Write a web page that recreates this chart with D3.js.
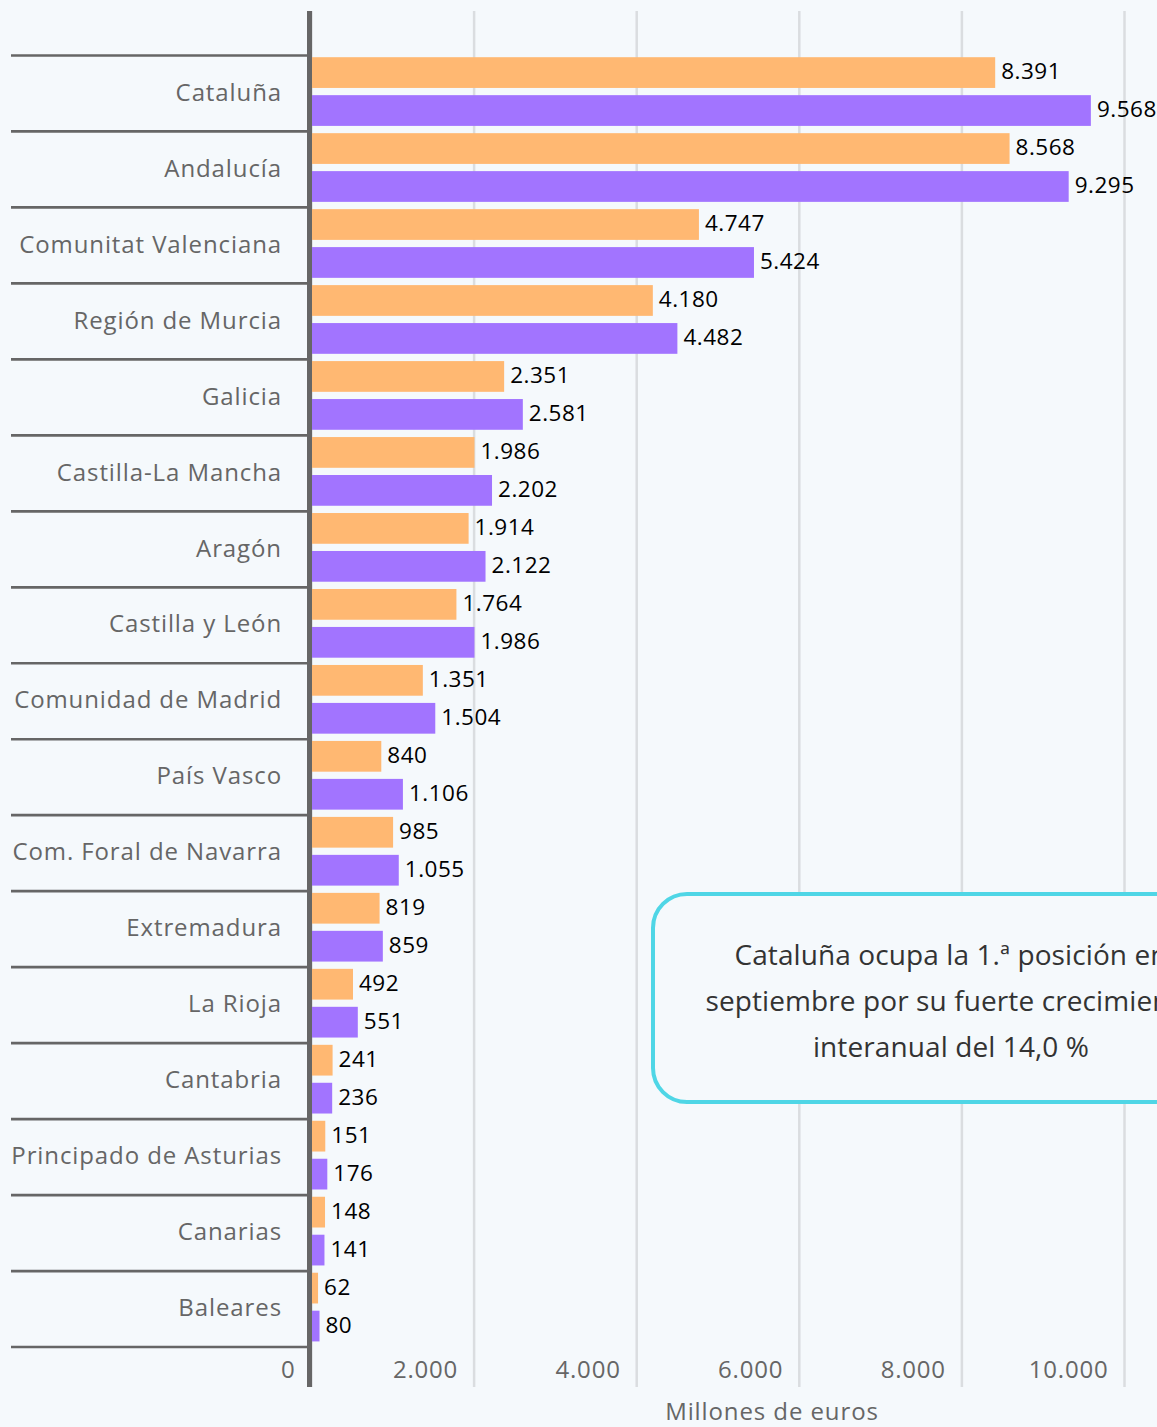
<!DOCTYPE html>
<html>
<head>
<meta charset="utf-8">
<script src="https://cdn.jsdelivr.net/npm/d3@7"></script>
<style>
  body { margin: 0; background: #f5f9fc; }
  svg { display: block; }
</style>
</head>
<body>
<div id="grafica"></div>
<script>
// datos
var regiones = ["Cataluña", "Andalucía", "Comunitat Valenciana", "Región de Murcia", "Galicia",
  "Castilla-La Mancha", "Aragón", "Castilla y León", "Comunidad de Madrid", "País Vasco",
  "Com. Foral de Navarra", "Extremadura", "La Rioja", "Cantabria", "Principado de Asturias",
  "Canarias", "Baleares"];
var serieAnterior = [8391, 8568, 4747, 4180, 2351, 1986, 1914, 1764, 1351, 840, 985, 819, 492, 241, 151, 148, 62];
var serieActual = [9568, 9295, 5424, 4482, 2581, 2202, 2122, 1986, 1504, 1106, 1055, 859, 551, 236, 176, 141, 80];
var ticksX = [0, 2000, 4000, 6000, 8000, 10000];
var tituloX = "Millones de euros";
var nota = ["Cataluña ocupa la 1.ª posición en", "septiembre por su fuerte crecimiento", "interanual del 14,0 %"];

var es = d3.formatLocale({ decimal: ",", thousands: ".", grouping: [3], currency: ["", " €"] });
var fmt = es.format(",d");

var width = 1157, height = 1427;
var yArriba = 11, yAbajo = 1387;

var svg = d3.select("#grafica")
  .append("svg")
  .attr("width", width)
  .attr("height", height);

var x = d3.scaleLinear()
  .domain([0, 10000])
  .range([311, 1124]);

var y = d3.scaleBand()
  .domain(regiones)
  .range([55.5, 1347])
  .padding(0);

var ySub = d3.scaleBand()
  .domain(["anterior", "actual"])
  .range([1.7, 70.4])
  .paddingInner(0.19);

var colores = { anterior: "#ffb872", actual: "#a274ff" };

// rejilla + etiquetas del eje x
var ejeX = svg.append("g")
  .attr("transform", "translate(0," + yAbajo + ")")
  .call(d3.axisBottom(x).tickValues(ticksX).tickSize(-(yAbajo - yArriba)).tickFormat(fmt));
ejeX.select(".domain").remove();
ejeX.selectAll("line")
  .attr("stroke", "#dadde0")
  .attr("stroke-width", 2.5);
ejeX.selectAll("text")
  .attr("y", -9)
  .attr("dy", 0)
  .attr("dx", -16)
  .attr("text-anchor", "end")
  .attr("fill", "#666")
  .style("font-family", "'Open Sans', sans-serif")
  .style("font-size", "24px")
  .style("letter-spacing", "0.8px");

svg.append("text")
  .attr("x", 772)
  .attr("y", 1420)
  .attr("text-anchor", "middle")
  .attr("fill", "#666")
  .style("font-family", "'Open Sans', sans-serif")
  .style("font-size", "24px")
  .style("letter-spacing", "0.9px")
  .text(tituloX);

// separadores de categorias
var bordes = d3.range(regiones.length + 1).map(function(i) { return y.range()[0] + i * y.step(); });
svg.selectAll("line.sep")
  .data(bordes)
  .enter()
  .append("line")
    .attr("class", "sep")
    .attr("x1", 11)
    .attr("x2", 308)
    .attr("y1", function(d) { return d; })
    .attr("y2", function(d) { return d; })
    .attr("stroke", "#666")
    .attr("stroke-width", 2.7);

var ejeY = svg.append("g")
  .attr("transform", "translate(308,0)")
  .call(d3.axisLeft(y).tickSize(0).tickPadding(26));
ejeY.select(".domain").remove();
ejeY.selectAll("text")
  .attr("dy", "0.3em")
  .attr("fill", "#666")
  .style("font-family", "'Open Sans', sans-serif")
  .style("font-size", "24px")
  .style("letter-spacing", "0.9px");

// barras
var filas = regiones.map(function(r, i) {
  return [
    { region: r, serie: "anterior", valor: serieAnterior[i] },
    { region: r, serie: "actual", valor: serieActual[i] }
  ];
}).flat();

svg.selectAll("rect.bar")
  .data(filas)
  .enter()
  .append("rect")
    .attr("class", "bar")
    .attr("x", x(0) + 1)
    .attr("y", function(d) { return y(d.region) + ySub(d.serie); })
    .attr("width", function(d) { return x(d.valor) - x(0) + 1; })
    .attr("height", ySub.bandwidth())
    .attr("fill", function(d) { return colores[d.serie]; });

svg.selectAll("text.valor")
  .data(filas)
  .enter()
  .append("text")
    .attr("class", "valor")
    .attr("x", function(d) { return x(d.valor) + 8; })
    .attr("y", function(d) { return y(d.region) + ySub(d.serie) + ySub.bandwidth() / 2; })
    .attr("dy", "0.3em")
    .attr("fill", "#000")
    .style("font-family", "'Open Sans', sans-serif")
    .style("font-size", "22.5px")
    .style("letter-spacing", "0.5px")
    .text(function(d) { return fmt(d.valor); });

// linea del eje
svg.append("line")
  .attr("x1", 309.5)
  .attr("x2", 309.5)
  .attr("y1", yArriba)
  .attr("y2", yAbajo)
  .attr("stroke", "#666")
  .attr("stroke-width", 5);

// nota
var notaG = svg.append("g");
notaG.append("rect")
  .attr("x", 653)
  .attr("y", 894)
  .attr("width", 600)
  .attr("height", 208)
  .attr("rx", 34)
  .attr("fill", "#f5f9fc")
  .attr("stroke", "#4fd6e6")
  .attr("stroke-width", 4);
notaG.selectAll("text")
  .data(nota)
  .enter()
  .append("text")
    .attr("x", 951)
    .attr("y", function(d, i) { return 965 + i * 46; })
    .attr("text-anchor", "middle")
    .attr("fill", "#333")
    .style("font-family", "'Open Sans', sans-serif")
    .style("font-size", "28px")
    .style("letter-spacing", "0.1px")
    .text(function(d) { return d; });
</script>
</body>
</html>
